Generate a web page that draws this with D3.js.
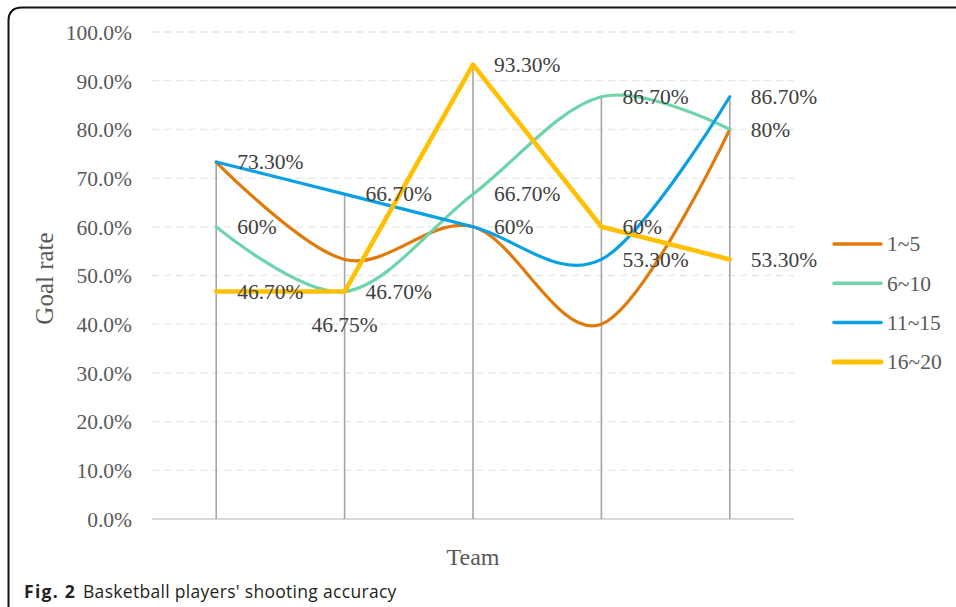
<!DOCTYPE html>
<html>
<head>
<meta charset="utf-8">
<script src="https://cdn.jsdelivr.net/npm/d3@7/dist/d3.min.js"></script>
<style>
  html, body { margin: 0; padding: 0; background: #fff; }
  svg { display: block; }
</style>
</head>
<body>
<svg id="chart" width="956" height="607"></svg>
<script>
// ---- Data ----
const categories = ["1", "2", "3", "4", "5"];
const seriesNames = ["1~5", "6~10", "11~15", "16~20"];
const series1to5   = [73.3, 53.3, 60.0, 40.0, 80.0];
const series6to10  = [60.0, 46.7, 66.7, 86.7, 80.0];
const series11to15 = [73.3, 66.7, 60.0, 53.3, 86.7];
const series16to20 = [46.7, 46.7, 93.3, 60.0, 53.3];
const seriesColors = ["#E07A0B", "#6FD3AC", "#0AA0E4", "#FFC000"];
const seriesSmooth = [true, true, true, false];
const yTicks = [0, 10, 20, 30, 40, 50, 60, 70, 80, 90, 100];
const yTickLabels = ["0.0%", "10.0%", "20.0%", "30.0%", "40.0%", "50.0%", "60.0%", "70.0%", "80.0%", "90.0%", "100.0%"];
// data labels as shown in the figure
const labelCategory = [0, 0, 0, 1, 1, 1, 2, 2, 2, 3, 3, 3, 4, 4, 4];
const labelValue = [73.3, 60, 46.7, 66.7, 46.7, 46.7, 93.3, 66.7, 60, 86.7, 60, 53.3, 86.7, 80, 53.3];
const labelText = ["73.30%", "60%", "46.70%", "66.70%", "46.70%", "46.75%", "93.30%", "66.70%", "60%", "86.70%", "60%", "53.30%", "86.70%", "80%", "53.30%"];
const labelPlacement = ["right", "right", "right", "right", "right", "below", "right", "right", "right", "right", "right", "right", "right", "right", "right"];
const xTitle = "Team";
const yTitle = "Goal rate";
const captionBold = "Fig. 2";
const captionText = "Basketball players' shooting accuracy";

const allSeries = [series1to5, series6to10, series11to15, series16to20];

// ---- Layout ----
const svg = d3.select("#chart");
const plot = { left: 152, right: 794, top: 32, bottom: 519 };
const serif = "'Liberation Serif', 'Times New Roman', serif";
const textColor = "#595959";

const x = d3.scaleBand().domain(categories).range([plot.left, plot.right]);
const cx = c => x(c) + x.bandwidth() / 2;
const y = d3.scaleLinear().domain([0, 100]).range([plot.bottom, plot.top]);

// frame
svg.append("path")
  .attr("d", `M 8.5 610 V 21 Q 8.5 7.5 22 7.5 H 960`)
  .attr("fill", "none").attr("stroke", "#111").attr("stroke-width", 2);

// gridlines
svg.append("g").selectAll("line").data(yTicks.filter(t => t > 0)).join("line")
  .attr("x1", plot.left).attr("x2", plot.right)
  .attr("y1", d => y(d)).attr("y2", d => y(d))
  .attr("stroke", "#e6e6e6").attr("stroke-width", 1.3)
  .attr("stroke-dasharray", "7,5");

// y axis via d3.axisLeft (labels only)
const yAxis = d3.axisLeft(y).tickValues(yTicks)
  .tickFormat((d, i) => yTickLabels[i]).tickSize(0).tickPadding(0);
const gy = svg.append("g").attr("transform", `translate(${plot.left - 20},0)`).call(yAxis);
gy.select(".domain").remove();
gy.selectAll("text")
  .attr("font-family", serif).attr("font-size", 21.5).attr("fill", textColor)
  .attr("dy", "0.34em");

// baseline
svg.append("line")
  .attr("x1", plot.left).attr("x2", plot.right)
  .attr("y1", y(0)).attr("y2", y(0))
  .attr("stroke", "#d9d9d9").attr("stroke-width", 1.8);

// drop lines (from highest point to axis)
svg.append("g").selectAll("line").data(categories).join("line")
  .attr("x1", d => cx(d)).attr("x2", d => cx(d))
  .attr("y1", (d, i) => y(d3.max(allSeries, s => s[i])))
  .attr("y2", y(0))
  .attr("stroke", "#a6a6a6").attr("stroke-width", 1.6);

// series lines
allSeries.forEach((s, k) => {
  const line = d3.line()
    .x((d, i) => cx(categories[i]))
    .y(d => y(d))
    .curve(seriesSmooth[k] ? d3.curveCardinal.tension(0) : d3.curveLinear);
  svg.append("path")
    .datum(s)
    .attr("d", line)
    .attr("fill", "none")
    .attr("stroke", seriesColors[k])
    .attr("stroke-width", seriesSmooth[k] ? 3.2 : 4.6)
    .attr("stroke-linejoin", "round")
    .attr("stroke-linecap", "round");
});

// data labels
svg.append("g").selectAll("text").data(labelText).join("text")
  .attr("x", (d, i) => cx(categories[labelCategory[i]]) + (labelPlacement[i] === "below" ? 0 : 21))
  .attr("y", (d, i) => y(labelValue[i]) + (labelPlacement[i] === "below" ? 33 : 0))
  .attr("dy", "0.34em")
  .attr("text-anchor", (d, i) => labelPlacement[i] === "below" ? "middle" : "start")
  .attr("font-family", serif).attr("font-size", 21.5).attr("fill", "#404040")
  .text(d => d);

// axis titles
svg.append("text")
  .attr("x", (plot.left + plot.right) / 2).attr("y", 565)
  .attr("text-anchor", "middle")
  .attr("font-family", serif).attr("font-size", 24).attr("fill", textColor)
  .text(xTitle);
svg.append("text")
  .attr("transform", `translate(53,${(plot.top + plot.bottom) / 2 + 3}) rotate(-90)`)
  .attr("text-anchor", "middle")
  .attr("font-family", serif).attr("font-size", 25).attr("fill", textColor)
  .text(yTitle);

// legend
const legend = svg.append("g");
seriesNames.forEach((name, k) => {
  const ly = 244 + k * 39.3;
  legend.append("line")
    .attr("x1", 834).attr("x2", 881).attr("y1", ly).attr("y2", ly)
    .attr("stroke", seriesColors[k])
    .attr("stroke-width", seriesSmooth[k] ? 3.5 : 5)
    .attr("stroke-linecap", "round");
  legend.append("text")
    .attr("x", 887).attr("y", ly).attr("dy", "0.34em")
    .attr("font-family", serif).attr("font-size", 21.5).attr("fill", textColor)
    .text(name);
});

// caption
const capFont = "'Open Sans', 'Noto Sans', sans-serif";
svg.append("text")
  .attr("x", 24).attr("y", 598)
  .attr("font-family", capFont).attr("font-size", 17.5).attr("font-weight", "bold")
  .attr("letter-spacing", 1.3).attr("fill", "#231f20")
  .text(captionBold);
svg.append("text")
  .attr("x", 83).attr("y", 598)
  .attr("font-family", capFont).attr("font-size", 17.5)
  .attr("letter-spacing", 0.3).attr("fill", "#231f20")
  .text(captionText);
</script>
</body>
</html>
